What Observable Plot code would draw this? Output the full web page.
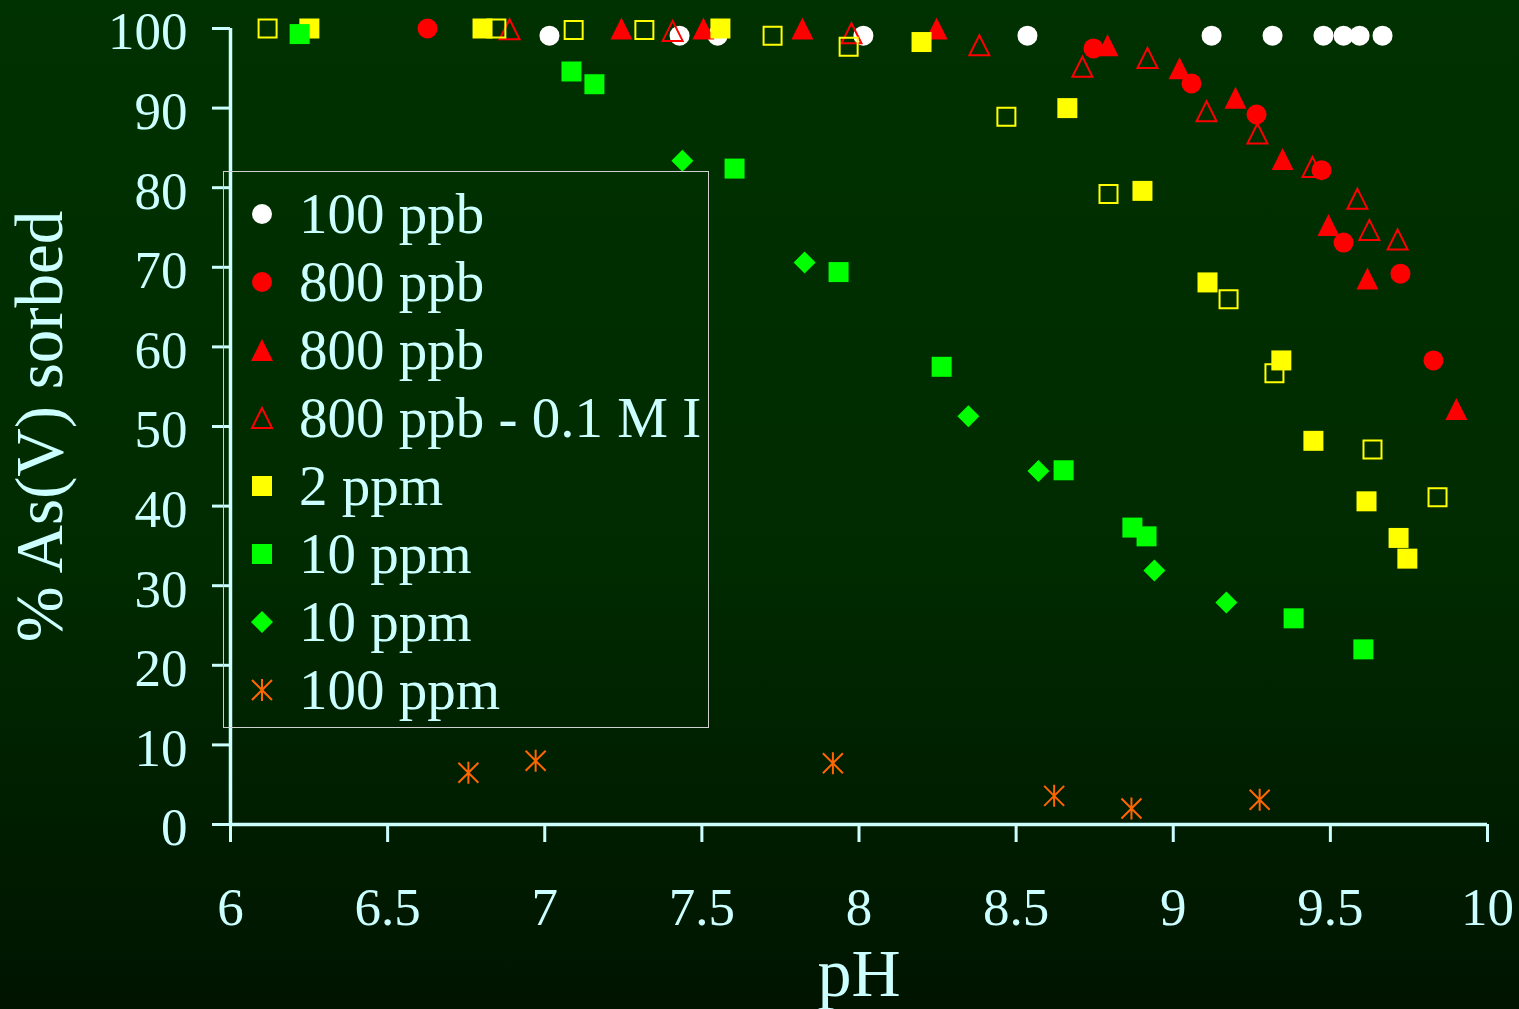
<!DOCTYPE html>
<html><head><meta charset="utf-8">
<script src="https://cdn.jsdelivr.net/npm/d3@7"></script>
<script src="https://cdn.jsdelivr.net/npm/@observablehq/plot@0.6"></script>
<style>
html,body{margin:0;padding:0;}
body{width:1519px;height:1009px;overflow:hidden;position:relative;
  background:linear-gradient(to bottom,#003100 0%,#002b00 55%,#001400 100%);
  font-family:"Liberation Serif","Times New Roman",serif;}
#chart{position:absolute;left:0;top:0;}
#legend{position:absolute;left:223px;top:171px;width:486px;height:557px;border:1px solid #d0d0d0;box-sizing:border-box;padding-top:8px;}
.row{display:flex;align-items:center;height:68px;color:#ccffff;font-size:57px;line-height:68px;white-space:nowrap;}
.row svg{margin-left:26px;width:24px;height:24px;flex:none;overflow:visible;}
.row span{margin-left:25px;}
</style>
</head><body>
<div id="chart"></div>
<div id="legend"></div>
<script>
// ---- data (pH, % As(V) sorbed) ----
const xTicks = [6, 6.5, 7, 7.5, 8, 8.5, 9, 9.5, 10];
const yTicks = [0, 10, 20, 30, 40, 50, 60, 70, 80, 90, 100];

const ppb100_pH  = [7.015, 7.429, 7.550, 8.014, 8.536, 9.122, 9.316, 9.478, 9.542, 9.593, 9.666];
const ppb100_pct = [99.1, 99.1, 99.1, 99.1, 99.1, 99.1, 99.1, 99.1, 99.1, 99.1, 99.1];

const ppb800c_pH  = [6.627, 8.746, 9.058, 9.265, 9.472, 9.542, 9.723, 9.828];
const ppb800c_pct = [100, 97.5, 93.1, 89.2, 82.2, 73.1, 69.2, 58.3];

const ppb800t_pH  = [7.244, 7.505, 7.820, 8.247, 8.791, 9.020, 9.198, 9.348, 9.494, 9.618, 9.901];
const ppb800t_pct = [100, 100, 100, 100, 97.9, 95.0, 91.3, 83.6, 75.3, 68.6, 52.2];

const ppb800I_pH  = [6.888, 7.407, 7.976, 8.383, 8.711, 8.918, 9.106, 9.268, 9.443, 9.586, 9.624, 9.714];
const ppb800I_pct = [99.9, 99.7, 99.4, 97.9, 95.2, 96.3, 89.6, 86.8, 82.6, 78.6, 74.7, 73.5];

const ppm2_pH  = [6.251, 6.802, 7.559, 8.199, 8.663, 8.902, 9.109, 9.344, 9.446, 9.615, 9.717, 9.745];
const ppm2_pct = [100, 100, 100, 98.3, 90.0, 79.6, 68.1, 58.3, 48.2, 40.6, 36.0, 33.4];

const ppm2open_pH  = [6.118, 6.846, 7.092, 7.317, 7.725, 7.967, 8.469, 8.794, 9.176, 9.322, 9.634, 9.841];
const ppm2open_pct = [100, 100, 99.8, 99.8, 99.1, 97.7, 88.9, 79.2, 66.0, 56.7, 47.1, 41.1];

const ppm10s_pH  = [6.220, 7.085, 7.158, 7.604, 7.935, 8.263, 8.651, 8.870, 8.915, 9.383, 9.605];
const ppm10s_pct = [99.3, 94.6, 93.0, 82.4, 69.4, 57.5, 44.5, 37.3, 36.2, 25.9, 22.0];

const ppm10d_pH  = [7.438, 7.827, 8.348, 8.571, 8.940, 9.169];
const ppm10d_pct = [83.4, 70.6, 51.3, 44.4, 31.9, 27.9];

const ppm100_pH  = [6.757, 6.971, 7.917, 8.621, 8.867, 9.275];
const ppm100_pct = [6.5, 8.0, 7.7, 3.6, 2.0, 3.1];

const legendLabels = ["100 ppb", "800 ppb", "800 ppb", "800 ppb - 0.1 M I", "2 ppm", "10 ppm", "10 ppm", "100 ppm"];

// ---- marker shapes ----
const sym = {
  circle:  {draw(c){c.moveTo(10,0);c.arc(0,0,10,0,2*Math.PI);c.closePath();}},
  square:  {draw(c){c.rect(-10,-10,20,20);}},
  openSquare: {draw(c){c.rect(-9,-9,18,18);}},
  triangle: {draw(c){c.moveTo(0,-11);c.lineTo(11,11);c.lineTo(-11,11);c.closePath();}},
  openTriangle: {draw(c){c.moveTo(0,-10);c.lineTo(10,10);c.lineTo(-10,10);c.closePath();}},
  diamond: {draw(c){c.moveTo(0,-11);c.lineTo(11,0);c.lineTo(0,11);c.lineTo(-11,0);c.closePath();}},
  star:    {draw(c){c.moveTo(0,-11);c.lineTo(0,11);c.moveTo(-10,-10);c.lineTo(10,10);c.moveTo(-10,10);c.lineTo(10,-10);}}
};

const styles = {
  white:   {symbol: sym.circle, fill: "#ffffff", stroke: "none"},
  redC:    {symbol: sym.circle, fill: "#ff0000", stroke: "none"},
  redT:    {symbol: sym.triangle, fill: "#ff0000", stroke: "none"},
  redOT:   {symbol: sym.openTriangle, fill: "none", stroke: "#ff0000", strokeWidth: 2},
  yelS:    {symbol: sym.square, fill: "#ffff00", stroke: "none"},
  yelOS:   {symbol: sym.openSquare, fill: "none", stroke: "#ffff00", strokeWidth: 2},
  grnS:    {symbol: sym.square, fill: "#00ff00", stroke: "none"},
  grnD:    {symbol: sym.diamond, fill: "#00ff00", stroke: "none"},
  orgX:    {symbol: sym.star, fill: "none", stroke: "#ff6600", strokeWidth: 2}
};

const dots = (xs, ys, st) => Plot.dot(d3.range(xs.length), {x: i => xs[i], y: i => ys[i], r: 10, ...st});

const font = "'Liberation Serif','Times New Roman',serif";
const cyan = "#ccffff";

const chart = Plot.plot({
  width: 1519, height: 1009,
  marginTop: 28, marginBottom: 185, marginLeft: 230, marginRight: 32,
  style: {background: "transparent", color: cyan, fontFamily: font, overflow: "visible"},
  x: {domain: [6, 10]},
  y: {domain: [0, 100]},
  marks: [
    Plot.axisX({ticks: xTicks, tickSize: 18, tickFormat: () => "", strokeWidth: 3, stroke: cyan, label: null}),
    Plot.axisX({ticks: xTicks, tickSize: 0, tickPadding: 63, tickFormat: d => String(d), fontSize: 53, fill: cyan, label: null}),
    Plot.axisY({ticks: yTicks, tickSize: 18, tickFormat: () => "", strokeWidth: 3, stroke: cyan, label: null}),
    Plot.axisY({ticks: yTicks, tickSize: 0, tickPadding: 43, dy: 4, fontSize: 53, fill: cyan, label: null}),
    Plot.ruleY([0], {stroke: cyan, strokeWidth: 3.5}),
    Plot.ruleX([6], {stroke: cyan, strokeWidth: 3.5}),
    dots(ppb100_pH, ppb100_pct, styles.white),
    dots(ppb800t_pH, ppb800t_pct, styles.redT),
    dots(ppb800I_pH, ppb800I_pct, styles.redOT),
    dots(ppb800c_pH, ppb800c_pct, styles.redC),
    dots(ppm2_pH, ppm2_pct, styles.yelS),
    dots(ppm2open_pH, ppm2open_pct, styles.yelOS),
    dots(ppm10s_pH, ppm10s_pct, styles.grnS),
    dots(ppm10d_pH, ppm10d_pct, styles.grnD),
    dots(ppm100_pH, ppm100_pct, styles.orgX),
    Plot.text(["pH"], {text: d => d, frameAnchor: "bottom", lineAnchor: "middle", textAnchor: "middle", dy: 150, fontSize: 68, fill: cyan}),
    Plot.text(["% As(V) sorbed"], {text: d => d, frameAnchor: "left", lineAnchor: "middle", textAnchor: "middle", rotate: -90, dx: -190, fontSize: 67, fill: cyan})
  ]
});
document.getElementById("chart").appendChild(chart);

// ---- legend ----
const legendStyles = [styles.white, styles.redC, styles.redT, styles.redOT, styles.yelS, styles.grnS, styles.grnD, styles.orgX];
const legend = document.getElementById("legend");
legendLabels.forEach((lab, i) => {
  const st = legendStyles[i];
  const p = d3.path(); st.symbol.draw(p, 0);
  const row = document.createElement("div");
  row.className = "row";
  row.innerHTML = `<svg viewBox="-12 -12 24 24"><path d="${p.toString()}" fill="${st.fill}" stroke="${st.stroke}" stroke-width="${st.strokeWidth || 0}"/></svg><span>${lab}</span>`;
  legend.appendChild(row);
});
</script>
</body></html>
